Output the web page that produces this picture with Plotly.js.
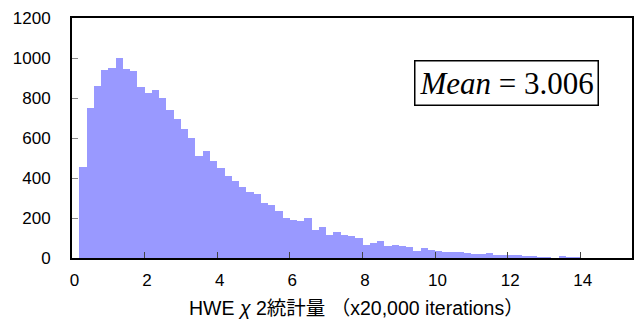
<!DOCTYPE html>
<html>
<head>
<meta charset="utf-8">
<script src="https://cdn.plot.ly/plotly-3.0.1.min.js"></script>
<style>html,body{margin:0;padding:0;background:#fff;}#chart{width:640px;height:329px;}</style>
</head>
<body>
<div id="chart"></div>
<script>
// Histogram of HWE chi-square statistic (20,000 iterations), bin width 0.2
const binWidth = 0.2;
const firstBinLeft = 0.2;
const counts = [
  456, 751, 860, 941, 950, 1001, 945, 933, 856, 825,
  841, 800, 741, 693, 646, 598, 510, 536, 486, 448,
  408, 385, 355, 330, 320, 273, 265, 233, 201, 188,
  185, 201, 140, 156, 116, 131, 113, 110, 98, 66,
  75, 86, 58, 66, 61, 53, 36, 48, 40, 33,
  30, 28, 28, 23, 18, 18, 23, 13, 13, 16,
  14, 12, 8, 5, 3, 2, 8, 6, 4, 2,
  2, 1, 2, 1, 1, 1
];
const xTickVals = [0, 2, 4, 6, 8, 10, 12, 14];
const yTickVals = [0, 200, 400, 600, 800, 1000, 1200];
const xTitle = 'HWE <i>χ</i> 2統計量 （x20,000 iterations）';
const meanLabel = '<i>Mean</i> = 3.006';

const binCenters = counts.map((_, i) => firstBinLeft + binWidth * i + binWidth / 2);

const tickFont = {family: 'Liberation Sans, Arial, sans-serif', size: 17, color: '#000'};

const trace = {
  type: 'bar',
  x: binCenters,
  y: counts,
  width: binWidth,
  marker: {color: '#9999ff', line: {width: 0}},
  hoverinfo: 'skip'
};

const layout = {
  width: 640,
  height: 329,
  margin: {l: 72, r: 8, t: 18, b: 71, pad: 0},
  paper_bgcolor: '#fff',
  plot_bgcolor: '#fff',
  showlegend: false,
  bargap: 0,
  xaxis: {
    range: [0, 15.42],
    tickvals: xTickVals,
    ticktext: xTickVals.map(v => '\u00a0' + v),
    ticks: 'inside',
    ticklen: 6,
    tickwidth: 1,
    tickcolor: '#444',
    showline: true,
    linecolor: '#000',
    linewidth: 2,
    mirror: true,
    showgrid: false,
    zeroline: false,
    tickfont: tickFont,
    ticklabelstandoff: 6
  },
  yaxis: {
    range: [0, 1200],
    tickvals: yTickVals,
    ticktext: yTickVals.map(String),
    ticks: 'inside',
    ticklen: 6,
    tickwidth: 1,
    tickcolor: '#888',
    showline: true,
    linecolor: '#000',
    linewidth: 2,
    mirror: true,
    showgrid: false,
    zeroline: false,
    tickfont: tickFont,
    ticklabelstandoff: 16
  },
  annotations: [{
    xref: 'paper', yref: 'paper',
    x: 0.776, y: 0.729,
    xanchor: 'center', yanchor: 'middle',
    text: meanLabel,
    showarrow: false,
    font: {family: 'Liberation Serif, Times New Roman, serif', size: 31, color: '#000'},
    bordercolor: '#000',
    borderwidth: 1.5,
    borderpad: 4,
    bgcolor: '#fff'
  }, {
    xref: 'paper', yref: 'paper',
    x: 0.508, y: -0.208,
    xanchor: 'center', yanchor: 'middle',
    text: xTitle,
    showarrow: false,
    font: {family: 'Liberation Sans, Noto Sans CJK JP, sans-serif', size: 19.5, color: '#000'}
  }]
};

Plotly.newPlot('chart', [trace], layout, {displayModeBar: false, staticPlot: true});
</script>
</body>
</html>
